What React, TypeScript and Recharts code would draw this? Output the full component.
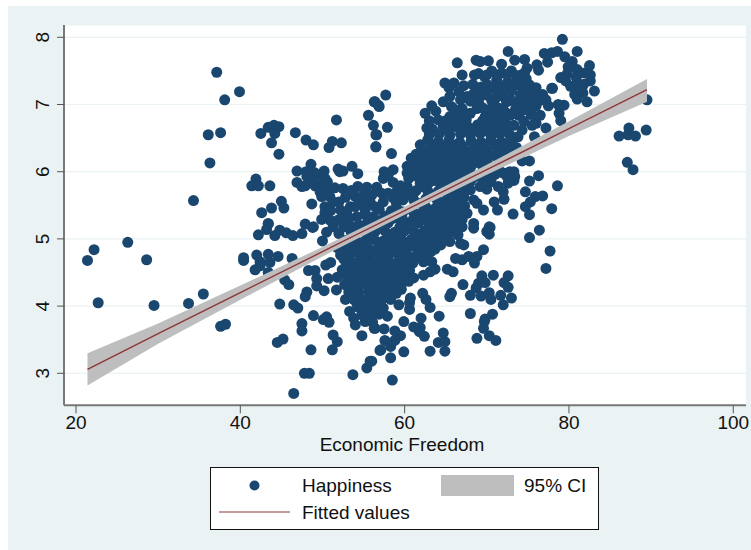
import { ComposedChart, Scatter, Area, Line, XAxis, YAxis, CartesianGrid } from 'recharts';

type Pair = [number, number];

const NAVY = '#1a476f';
const MAROON = '#90353b';
const BAND = '#bebebe';
const PANEL = '#eaf2f3';
const FONT = '"Liberation Sans", Arial, sans-serif';

const xTicks = [20, 40, 60, 80, 100];
const yTicks = [3, 4, 5, 6, 7, 8];
const xDomain = [18.54, 101.55];
const yDomain = [2.524, 8.183];

// fitted line and its 95% band
const fitFreedom = [21.4, 30, 40, 50, 60, 70, 80, 89.5];
const fitValues = [3.06, 3.59, 4.2, 4.81, 5.42, 6.03, 6.64, 7.22];
const ciLow = [2.82, 3.44, 4.095, 4.74, 5.36, 5.955, 6.53, 7.04];
const ciHigh = [3.3, 3.74, 4.305, 4.88, 5.48, 6.105, 6.75, 7.38];

const leftTail: Pair[] = [
  [22.2, 4.84], [21.4, 4.68], [26.3, 4.95], [28.6, 4.69], [22.7, 4.05], [29.5, 4.01], [33.7, 4.04], [35.5, 4.18],
  [37.6, 3.7], [38.2, 3.73], [34.3, 5.57], [36.3, 6.13], [36.1, 6.55], [37.6, 6.58], [38.1, 7.07], [39.9, 7.19], [37.13, 7.48],
  [40.4, 4.72], [40.4, 4.68],
];

const leftEdge: Pair[] = [
  [42.5, 6.57], [43.4, 6.66], [44.1, 6.69], [44.7, 6.67], [44.2, 6.57], [43.8, 6.43], [44.7, 6.26], [46.7, 6.58], [48.0, 6.47],
  [48.9, 6.4], [51.2, 6.45], [50.8, 6.36], [52.3, 6.43], [51.7, 6.77], [48.6, 6.11], [46.9, 6.01], [50.2, 6.01], [51.9, 6.04],
  [52.1, 6.0], [52.5, 6.01], [53.6, 6.08], [54.3, 5.97], [55.6, 6.84], [56.3, 7.04], [56.8, 6.99], [56.2, 6.69], [56.5, 6.55],
  [56.5, 6.37], [41.9, 5.89], [41.4, 5.79], [42.2, 5.79], [43.6, 5.79], [45.0, 5.56], [43.8, 5.46], [45.3, 5.46], [42.6, 5.39],
  [43.4, 5.23], [48.7, 5.52], [42.0, 4.76], [42.2, 5.06], [43.4, 4.77], [44.6, 4.74], [46.3, 4.71], [42.4, 4.66], [43.6, 4.65],
  [41.8, 4.54], [42.4, 4.6], [43.4, 4.5], [44.2, 5.05], [43.2, 5.14], [43.4, 5.22], [44.8, 5.13], [45.6, 5.09], [46.4, 5.05],
  [47.5, 5.08], [47.9, 5.22], [48.8, 5.17], [45.4, 4.39], [45.9, 4.32], [44.8, 4.03], [46.5, 4.02], [47.0, 3.97], [48.1, 4.21],
  [47.9, 4.14], [48.9, 3.86], [47.5, 3.74], [47.5, 3.63], [50.5, 3.84], [50.1, 3.8], [50.8, 3.76], [51.3, 3.57], [51.8, 3.47],
  [51.2, 3.35], [48.6, 3.35], [44.5, 3.46], [45.2, 3.51], [47.8, 3.0], [48.4, 3.0], [46.5, 2.7], [53.7, 2.98], [55.4, 3.08],
  [55.8, 3.18], [57.0, 3.34], [48.3, 4.53], [49.1, 4.53], [49.3, 4.41], [49.3, 4.3], [50.2, 4.23], [50.7, 4.41], [50.4, 4.61],
  [51.0, 4.65], [51.8, 4.43], [51.7, 4.24], [52.8, 4.1], [53.3, 3.92], [54.2, 4.03], [53.8, 3.82], [54.0, 3.72], [54.8, 3.56],
  [56.4, 3.67], [50.0, 4.97],
  [46.9, 5.84], [47.5, 5.78], [48.1, 5.93], [48.7, 5.85], [49.3, 5.95], [47.9, 5.79], [49.1, 5.79], [49.7, 5.7], [50.6, 5.85],
  [49.9, 5.63], [50.9, 5.63], [51.5, 5.76], [52.5, 5.75], [51.3, 5.55], [50.3, 5.48], [52.8, 5.62], [54.0, 5.63], [55.4, 5.77],
  [56.6, 5.77], [53.4, 5.48], [54.8, 5.55], [55.8, 5.55], [52.2, 5.43], [55.2, 5.43], [56.4, 5.48], [50.3, 5.39], [49.9, 5.29],
  [50.9, 5.28], [51.9, 5.28], [53.2, 5.31], [54.2, 5.33], [56.2, 5.33], [51.3, 5.18], [52.6, 5.18], [53.8, 5.18], [48.9, 5.18],
];

const lowerEdge: Pair[] = [
  [58.5, 2.9], [56.0, 3.18], [58.3, 3.23], [57.1, 3.35], [59.9, 3.32], [63.1, 3.33], [64.9, 3.33], [64.1, 3.46], [64.9, 3.47],
  [64.7, 3.6], [57.6, 3.49], [58.3, 3.4], [58.8, 3.49], [59.5, 3.56], [58.8, 3.63], [57.5, 3.66], [56.3, 3.67], [62.4, 3.55],
  [61.8, 3.62], [61.1, 3.69], [61.9, 3.68], [59.9, 3.77], [62.0, 3.82], [57.9, 3.85], [64.2, 3.85], [63.1, 3.98], [60.6, 3.95],
  [59.3, 4.02], [60.7, 4.12], [60.6, 4.05], [62.6, 4.1], [62.2, 4.19], [65.5, 4.14], [65.7, 4.19], [67.1, 4.32], [68.0, 4.16],
  [68.0, 3.89], [68.8, 3.52], [70.3, 3.56], [71.1, 3.49], [69.6, 3.67], [69.7, 3.77], [69.8, 3.81], [70.7, 3.88], [72.0, 4.02],
  [73.0, 4.12], [71.7, 4.16], [70.5, 4.1], [69.3, 4.15], [70.3, 4.2], [68.7, 4.27], [69.0, 4.34], [69.8, 4.35], [69.4, 4.45],
  [70.8, 4.46], [72.6, 4.45], [72.1, 4.35], [72.6, 4.28], [77.2, 4.56], [77.7, 4.82], [75.2, 5.02], [76.4, 5.13], [69.6, 4.84],
  [68.5, 4.64], [68.8, 4.74], [65.9, 4.51], [65.2, 4.55], [63.7, 4.55], [63.1, 4.51], [62.3, 4.46], [63.3, 4.66], [62.3, 4.66],
  [60.1, 4.59], [66.2, 4.71], [67.0, 4.69], [67.8, 4.74], [65.5, 4.96], [66.8, 4.93], [67.2, 4.91], [66.5, 5.06], [64.1, 4.93],
  [67.0, 5.18], [68.4, 5.16], [70.0, 5.11], [70.4, 5.17], [70.3, 5.07], [61.3, 4.91], [62.3, 4.86], [62.9, 4.91], [65.1, 5.11],
];

const upperEdge: Pair[] = [
  [79.2, 7.97], [81.0, 7.79], [72.6, 7.79], [73.4, 7.66], [74.6, 7.67], [77.0, 7.76], [77.9, 7.77], [78.6, 7.79], [77.4, 7.63],
  [76.1, 7.59], [76.3, 7.51], [74.9, 7.54], [66.4, 7.62], [68.7, 7.66], [69.2, 7.64], [70.2, 7.65], [71.8, 7.6], [79.5, 7.71],
  [80.4, 7.64], [82.5, 7.58], [82.6, 7.44], [82.6, 7.35], [83.1, 7.2], [82.2, 7.04], [80.7, 7.15], [79.0, 7.4], [80.2, 7.27],
  [89.5, 7.07], [89.4, 6.62], [86.1, 6.53], [87.3, 6.65], [87.2, 6.55], [88.1, 6.53], [87.1, 6.14], [87.8, 6.03], [79.4, 6.99],
  [78.7, 7.0], [78.8, 6.87], [79.0, 6.76], [77.2, 6.65], [78.0, 7.24], [76.0, 7.25], [76.3, 5.94], [75.2, 5.86], [78.6, 5.79],
  [74.7, 5.7], [76.8, 5.64], [75.9, 5.63], [75.3, 5.55], [74.7, 5.48], [77.9, 5.45], [75.2, 5.36], [73.2, 5.37], [71.3, 5.43],
  [70.9, 5.55], [72.1, 5.59], [72.0, 5.7], [71.4, 5.78], [70.0, 5.74], [70.3, 5.18], [75.2, 6.16], [74.3, 6.16], [73.3, 6.0],
  [73.3, 5.87], [75.8, 6.52], [58.4, 6.27], [56.5, 6.37], [56.6, 6.55], [57.9, 6.66], [57.7, 7.14], [56.9, 6.97], [56.4, 7.04],
  [64.9, 7.32], [65.4, 7.25], [67.0, 7.44], [68.5, 7.44], [67.6, 7.12], [69.2, 7.12], [70.4, 7.24], [72.0, 7.12], [74.1, 7.14],
  [75.7, 7.12], [77.9, 7.24], [77.2, 7.07], [63.3, 6.98], [64.7, 7.04], [65.7, 6.97], [62.5, 6.87], [62.7, 6.65], [68.8, 6.94],
  [68.0, 6.87], [66.8, 6.79], [65.5, 6.82], [64.7, 6.67], [66.6, 6.69], [69.8, 6.82], [71.2, 6.82], [72.8, 6.84], [73.3, 6.69],
  [74.5, 6.92], [75.5, 6.69], [76.5, 6.84], [72.4, 7.04], [73.7, 7.02],
  [70.6, 7.5], [71.8, 7.47], [73.0, 7.5], [74.2, 7.44], [71.2, 7.36], [72.5, 7.33], [73.6, 7.35], [74.8, 7.38], [69.7, 7.42],
  [66.0, 7.32], [67.2, 7.28], [68.3, 7.3], [69.3, 7.26], [66.6, 7.19], [68.4, 7.16], [71.3, 7.18], [73.0, 7.2], [75.0, 7.2],
  [76.8, 7.15], [79.9, 7.56], [81.0, 7.52], [81.9, 7.47], [79.8, 7.46], [80.9, 7.4], [81.8, 7.3], [79.6, 7.35], [80.8, 7.28],
  [81.7, 7.17], [81.0, 7.08], [70.6, 7.06], [74.6, 7.0], [76.0, 6.98], [63.8, 6.9], [67.0, 6.94], [64.1, 6.77], [70.4, 6.93],
  [71.6, 6.94], [73.9, 6.84], [75.4, 6.85], [63.4, 6.63], [65.8, 6.66], [67.8, 6.66], [68.9, 6.7], [70.1, 6.68], [71.4, 6.66],
  [72.4, 6.7], [74.3, 6.62],
];

const denseCore: Pair[] = [
  [62.8, 6.47], [64.1, 6.45], [65.4, 6.47], [66.7, 6.44], [68.1, 6.46], [69.3, 6.44], [70.5, 6.47], [71.8, 6.44], [72.9, 6.46],
  [62.2, 6.32], [63.5, 6.34], [64.9, 6.31], [66.2, 6.33], [67.5, 6.3], [68.8, 6.33], [70.1, 6.31], [71.4, 6.34], [72.6, 6.3], [73.6, 6.36],
  [60.8, 6.2], [62.0, 6.18], [63.4, 6.21], [64.6, 6.19], [65.9, 6.21], [67.3, 6.18], [68.5, 6.2], [69.9, 6.19], [71.2, 6.22],
  [60.3, 6.08], [61.6, 6.09], [62.9, 6.07], [64.2, 6.1], [65.5, 6.07], [66.8, 6.09], [68.1, 6.08], [69.4, 6.1],
  [57.5, 6.0], [58.6, 6.03], [57.4, 5.9], [58.6, 5.84], [58.0, 5.68], [57.4, 5.55], [58.6, 5.61], [59.8, 5.58], [61.1, 5.58],
  [59.2, 5.43], [60.3, 5.98], [60.9, 5.98], [61.5, 5.93], [60.3, 5.78], [61.9, 5.83], [63.1, 5.85], [64.1, 5.85], [62.3, 5.96],
  [63.6, 5.97], [64.9, 5.95], [66.2, 5.96], [67.5, 5.97], [65.4, 5.84], [66.7, 5.83], [68.0, 5.85], [59.1, 5.72], [60.2, 5.66],
  [61.4, 5.72], [62.8, 5.72], [64.1, 5.71], [65.5, 5.7], [66.8, 5.72], [62.6, 5.6], [63.9, 5.59], [65.2, 5.6], [66.4, 5.58],
  [69.2, 5.78], [68.0, 5.73], [68.4, 5.58], [69.6, 5.43], [68.8, 5.53], [67.6, 5.38], [68.4, 5.23], [66.8, 5.21], [72.0, 5.98],
  [72.6, 5.83], [71.0, 5.96], [69.9, 5.92], [62.6, 5.47], [63.8, 5.46], [65.0, 5.48], [66.2, 5.47], [67.3, 5.49],
  [61.6, 5.35], [62.8, 5.34], [64.0, 5.36], [65.1, 5.33], [66.3, 5.35], [57.6, 5.34], [58.4, 5.42], [56.9, 5.22], [58.0, 5.24],
  [59.0, 5.31], [60.4, 5.22], [61.7, 5.24], [63.0, 5.22], [64.2, 5.24], [65.4, 5.22], [56.4, 5.11], [57.6, 5.12], [58.8, 5.1],
  [60.0, 5.12], [61.2, 5.1], [62.4, 5.12], [63.6, 5.1], [64.7, 5.12], [66.0, 5.11],
  [52.9, 4.98], [54.0, 5.0], [55.2, 4.97], [56.3, 4.99], [57.4, 4.97], [58.6, 5.0], [59.7, 4.98], [60.8, 4.99], [62.0, 4.98], [63.1, 5.0], [64.2, 4.97],
  [51.8, 4.87], [52.8, 4.86], [54.4, 4.88], [55.6, 4.86], [56.8, 4.87], [57.9, 4.85], [59.1, 4.88], [60.3, 4.86], [61.4, 4.87], [63.7, 4.85],
  [52.2, 4.76], [53.3, 4.75], [54.5, 4.77], [55.7, 4.75], [56.9, 4.76], [58.0, 4.74], [59.2, 4.77], [60.4, 4.75], [61.5, 4.76], [62.7, 4.75],
  [52.9, 4.65], [54.1, 4.64], [55.2, 4.66], [56.4, 4.64], [57.5, 4.65], [58.7, 4.63], [59.8, 4.66], [61.0, 4.64],
  [52.4, 4.54], [53.6, 4.53], [54.8, 4.55], [55.9, 4.53], [57.1, 4.54], [58.3, 4.52], [59.4, 4.55], [60.6, 4.53],
  [53.0, 4.43], [54.2, 4.42], [55.3, 4.44], [56.5, 4.42], [57.7, 4.43], [58.8, 4.41], [60.0, 4.44], [61.1, 4.42],
  [52.7, 4.32], [53.8, 4.31], [55.0, 4.33], [56.1, 4.31], [57.3, 4.32], [58.4, 4.3], [59.6, 4.33],
  [53.2, 4.21], [54.4, 4.2], [55.6, 4.22], [56.7, 4.2], [57.9, 4.21], [59.0, 4.19],
  [53.8, 4.1], [55.0, 4.09], [56.1, 4.11], [57.2, 4.09], [58.3, 4.1],
  [54.4, 3.98], [55.5, 3.97], [56.6, 3.99], [57.4, 3.97],
  [54.8, 3.87], [55.9, 3.86], [56.9, 3.88], [55.2, 3.77], [56.1, 3.76],
];

// second pass over the cloud, the points between the ones above
const upperFill: Pair[] = [
  [69.0, 7.46], [70.0, 7.44], [71.3, 7.42], [72.5, 7.45], [73.6, 7.43], [74.6, 7.47],
  [70.0, 7.3], [71.0, 7.27], [72.0, 7.26], [73.0, 7.3], [74.0, 7.28], [75.2, 7.29], [76.0, 7.14],
  [65.5, 7.12], [66.8, 7.07], [68.0, 7.05], [69.0, 7.03], [70.0, 7.14], [71.0, 7.08], [73.0, 7.06], [74.5, 7.1], [75.0, 7.05], [76.5, 7.06],
  [66.0, 6.93], [69.5, 6.95], [71.0, 6.98], [72.0, 6.92], [73.5, 6.93], [75.5, 6.95], [77.5, 6.98],
  [63.0, 6.76], [65.0, 6.76], [66.0, 6.74], [67.5, 6.77], [69.5, 6.76], [70.8, 6.75], [72.0, 6.78], [74.5, 6.75], [76.0, 6.72],
  [63.0, 6.55], [64.2, 6.56], [65.5, 6.54], [66.8, 6.56], [68.0, 6.55], [69.2, 6.57], [70.5, 6.54], [71.6, 6.56], [72.8, 6.55], [73.8, 6.52],
  [61.9, 6.4], [63.2, 6.41], [64.5, 6.39], [65.8, 6.4], [67.1, 6.38], [68.4, 6.4], [69.7, 6.38], [71.0, 6.41], [72.2, 6.39], [73.1, 6.4],
  [61.4, 6.26], [62.8, 6.25], [64.2, 6.27], [65.3, 6.25], [66.6, 6.27], [67.9, 6.25], [69.2, 6.26], [70.5, 6.25], [71.8, 6.27], [72.9, 6.24],
  [60.9, 6.13], [62.3, 6.14], [63.6, 6.12], [64.9, 6.14], [66.2, 6.13], [67.5, 6.12], [68.8, 6.14], [70.1, 6.13],
  [65.2, 6.62], [67.0, 6.62], [68.3, 6.63], [69.6, 6.61], [70.9, 6.62], [72.2, 6.61], [66.5, 6.86], [67.5, 6.85], [70.8, 6.87], [72.3, 6.88], [73.2, 6.86],
  [70.5, 6.0], [71.5, 6.02], [72.8, 6.0],
];

const lowerFill: Pair[] = [
  [61.2, 6.02], [62.6, 6.03], [64.0, 6.01], [65.2, 6.02], [66.5, 6.03], [67.8, 6.01],
  [60.5, 5.9], [62.0, 5.89], [63.3, 5.91], [64.5, 5.9], [65.8, 5.9], [67.0, 5.89], [68.3, 5.91], [69.5, 5.87], [70.5, 5.88], [72.5, 5.92], [73.4, 5.93],
  [59.5, 5.79], [62.2, 5.78], [64.7, 5.78], [66.0, 5.78], [67.3, 5.79],
  [59.5, 5.65], [61.0, 5.65], [63.2, 5.65], [65.8, 5.64], [67.0, 5.65],
  [59.0, 5.53], [62.0, 5.53], [64.4, 5.53], [65.6, 5.54], [66.9, 5.52],
  [59.8, 5.4], [61.0, 5.41], [62.2, 5.4], [63.4, 5.41], [64.6, 5.4], [65.7, 5.41], [67.0, 5.4],
  [57.2, 5.28], [58.3, 5.29], [59.8, 5.28], [61.0, 5.28], [62.4, 5.29], [63.6, 5.28], [64.8, 5.29], [66.0, 5.28], [67.0, 5.29],
  [55.8, 5.17], [57.0, 5.17], [59.4, 5.17], [60.6, 5.16], [63.0, 5.16], [64.2, 5.17], [65.4, 5.16], [66.4, 5.17],
  [54.0, 5.06], [55.5, 5.05], [58.0, 5.06], [59.2, 5.05], [61.6, 5.06], [62.8, 5.05], [64.0, 5.05], [65.2, 5.04],
  [53.3, 4.92], [54.8, 4.93], [57.2, 4.93], [58.4, 4.92], [60.8, 4.92], [62.0, 4.93], [63.3, 4.92], [64.4, 4.91],
  [52.3, 4.81], [53.8, 4.81], [55.0, 4.82], [56.2, 4.81], [58.6, 4.81], [59.8, 4.82], [62.1, 4.8], [63.2, 4.81],
  [52.6, 4.7], [54.9, 4.71], [57.3, 4.71], [59.6, 4.71], [60.8, 4.7], [62.0, 4.71],
  [53.5, 4.59], [55.8, 4.59], [58.1, 4.58], [59.3, 4.6],
  [52.8, 4.48], [54.0, 4.48], [56.3, 4.48], [58.6, 4.47], [59.8, 4.49],
  [53.5, 4.37], [55.8, 4.38], [58.1, 4.37], [59.3, 4.38], [60.5, 4.37],
  [53.9, 4.26], [56.2, 4.27], [58.6, 4.26], [59.6, 4.25],
  [54.2, 4.15], [56.5, 4.16], [57.7, 4.15],
  [54.9, 4.04], [56.0, 4.04], [57.0, 4.03], [55.2, 3.93], [56.3, 3.92], [55.4, 3.82],
];

const leftFill: Pair[] = [
  [50.0, 5.82], [50.5, 5.72], [52.0, 5.55], [53.5, 5.72], [54.3, 5.78], [53.0, 5.36], [54.6, 5.2], [55.5, 5.25], [52.3, 5.3], [51.0, 5.42],
  [56.0, 5.65], [55.0, 5.65], [54.0, 5.48], [53.0, 5.25], [55.2, 5.36], [53.5, 5.1], [54.6, 5.12], [52.0, 5.08], [50.5, 5.1], [49.0, 5.99],
  [48.0, 6.0], [48.9, 5.9], [50.3, 5.9], [69.0, 5.95], [70.5, 5.85], [67.2, 5.62], [56.9, 5.44], [57.2, 5.68], [58.0, 5.95],
];

const happinessPoints = [
  ...leftTail, ...leftEdge, ...lowerEdge, ...upperEdge, ...denseCore, ...upperFill, ...lowerFill, ...leftFill,
].map(([freedom, happiness]) => ({ freedom, happiness }));

const fitRows = fitFreedom.map((freedom, i) => ({
  freedom,
  fitted: fitValues[i],
  ci: [ciLow[i], ciHigh[i]],
}));

function Dot(props: any) {
  return <circle cx={props.cx} cy={props.cy} r={5.5} fill={NAVY} />;
}

function RotatedTick({ x, y, payload }: any) {
  return (
    <text x={x - 6} y={y} transform={`rotate(-90 ${x - 6} ${y})`} textAnchor="middle" fontSize={19} fontFamily={FONT} fill="#111">
      {payload.value}
    </text>
  );
}

function LegendBox() {
  const text = { fontSize: 19, fontFamily: FONT, fill: '#111' };
  return (
    <svg width={389} height={63} style={{ position: 'absolute', left: 202, top: 461 }}>
      <rect x={0.5} y={0.5} width={388} height={62} fill="#fff" stroke="#111" />
      <circle cx={44.5} cy={18.5} r={5} fill={NAVY} />
      <text x={92} y={25} {...text}>Happiness</text>
      <rect x={231} y={8} width={73} height={21} fill={BAND} />
      <text x={314} y={25} {...text}>95% CI</text>
      <line x1={9} x2={80} y1={45} y2={45} stroke={MAROON} strokeWidth={1.2} />
      <text x={92} y={52} {...text}>Fitted values</text>
    </svg>
  );
}

export default function App() {
  return (
    <div style={{ position: 'absolute', left: 8, top: 6, width: 743, height: 544, background: PANEL }}>
      <ComposedChart
        width={743}
        height={544}
        margin={{ top: 19, right: 5, bottom: 0, left: 0 }}
        style={{ fontFamily: FONT }}
      >
        <CartesianGrid vertical={false} stroke={PANEL} strokeWidth={1.2} fill="#fff" />
        <XAxis
          dataKey="freedom"
          type="number"
          domain={xDomain}
          ticks={xTicks}
          allowDataOverflow
          height={144.7}
          interval={0}
          tickSize={8}
          tickMargin={2}
          tick={{ fontSize: 19, fill: '#111', fontFamily: FONT }}
          axisLine={{ stroke: '#777', strokeWidth: 2 }}
          tickLine={{ stroke: '#555', strokeWidth: 1 }}
          label={{ value: 'Economic Freedom', position: 'insideTop', offset: 32, dx: -3, fontSize: 19, fill: '#111', fontFamily: FONT }}
        />
        <YAxis
          dataKey="happiness"
          type="number"
          domain={yDomain}
          ticks={yTicks}
          allowDataOverflow
          width={56}
          interval={0}
          tickSize={7}
          tick={<RotatedTick />}
          axisLine={{ stroke: '#777', strokeWidth: 2 }}
          tickLine={{ stroke: '#555', strokeWidth: 1 }}
        />
        <Scatter data={happinessPoints} shape={<Dot />} isAnimationActive={false} legendType="none" />
      </ComposedChart>
      {/* band and line sit over the dots, recharts puts scatter on top inside one chart */}
      <div style={{ position: 'absolute', left: 0, top: 0 }}>
        <ComposedChart width={743} height={544} data={fitRows} margin={{ top: 19, right: 5, bottom: 144.7, left: 56 }}>
          <XAxis dataKey="freedom" type="number" domain={xDomain} allowDataOverflow hide />
          <YAxis type="number" domain={yDomain} allowDataOverflow hide />
          <Area dataKey="ci" type="linear" stroke="none" fill={BAND} fillOpacity={1} dot={false} activeDot={false} isAnimationActive={false} />
          <Line dataKey="fitted" type="linear" stroke={MAROON} strokeWidth={1.4} dot={false} activeDot={false} isAnimationActive={false} />
        </ComposedChart>
      </div>
      <LegendBox />
    </div>
  );
}
